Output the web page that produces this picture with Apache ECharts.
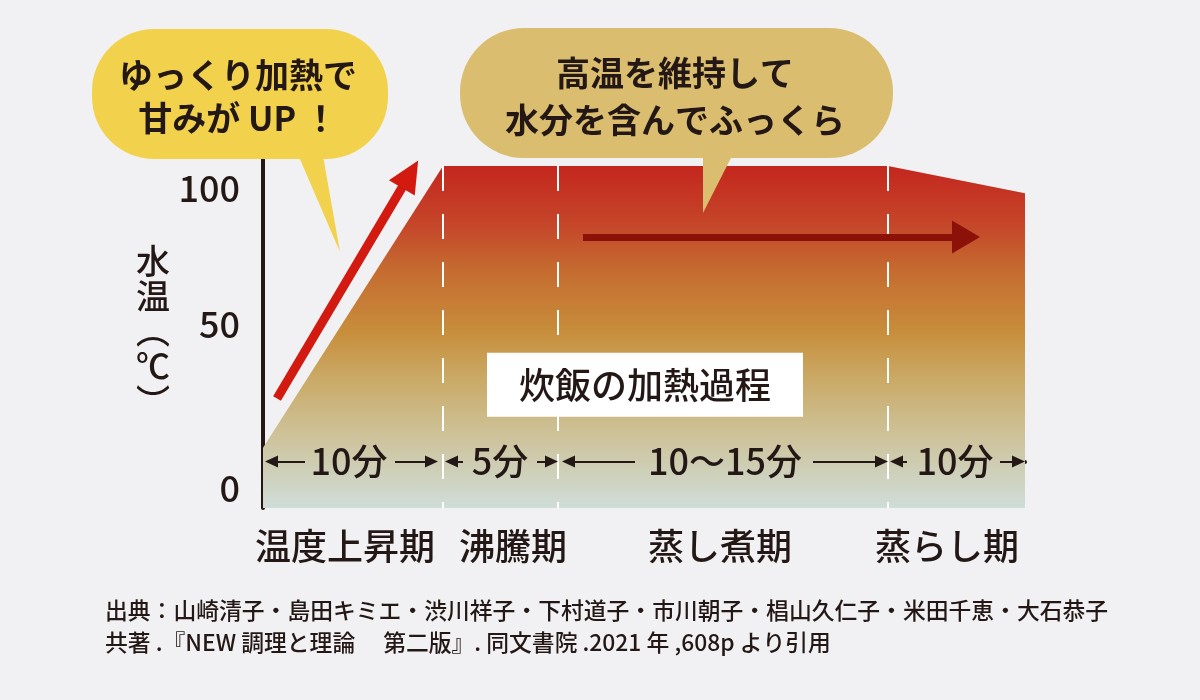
<!DOCTYPE html>
<html><head><meta charset="utf-8">
<script src="https://cdn.jsdelivr.net/npm/echarts@6/dist/echarts.min.js"></script>
<style>html,body{margin:0;padding:0;background:#f1f1f3;} #c{width:1200px;height:700px;}</style>
</head><body><div id="c"></div>
<script>
// ---------- data ----------
const stageNames = ['温度上昇期', '沸騰期', '蒸し煮期', '蒸らし期'];
const stageLabelPos = [82, 250, 457, 684];          // schematic x units
const stageBounds = [0, 180, 295, 625, 762];        // stage boundaries (schematic x units)
const curveX = [0, 180, 295, 625, 762];
const curveTemp = [5, 108, 108, 108, 98];           // water temperature (°C, schematic)
const yTickValues = [0, 50, 100];
const yTickLabels = ['0', '50', '100'];
const durationLabels = ['10分', '5分', '10〜15分', '10分'];
const durationLabelX = [86, 237, 462, 692];
const durationRowY = 0;
const durationLeftSegs = [[8.5, 42], [188.5, 200], [305.5, 372], [633.5, 644]];
const durationRightSegs = [[132, 168.5], [274, 288.5], [550, 618.5], [737, 755.5]];
const riseArrow = [[14, 23], [147, 105]];
const holdArrow = [[320, 82], [703, 82]];
const boxTitle = '炊飯の加熱過程';
const boxPos = [382, 28];
const bubble1Text = 'ゆっくり加熱で\n甘みが UP ！';
const bubble2Text = '高温を維持して\n水分を含んでふっくら';
const sourceLine1 = '出典：山崎清子・島田キミエ・渋川祥子・下村道子・市川朝子・椙山久仁子・米田千恵・大石恭子';
const sourceLine2 = '共著 .『NEW 調理と理論　 第二版』. 同文書院 .2021 年 ,608p より引用';
const yAxisTitle = '水\n温\n︵\n℃\n︶';

// ---------- chart ----------
const FONT = "'Noto Sans CJK JP', 'Noto Sans', sans-serif";
const INK = '#231815';
const W = 500;
const Y_MIN = -17, Y_MAX = 112;
const X_MIN = 0, X_MAX = 762;

const chart = echarts.init(document.getElementById('c'));

const areaGradient = new echarts.graphic.LinearGradient(0, 0, 0, 1, [
  { offset: 0, color: '#c4261e' },
  { offset: 0.18, color: '#c5482a' },
  { offset: 0.30, color: '#c56a30' },
  { offset: 0.48, color: '#c78d3a' },
  { offset: 0.62, color: '#caa966' },
  { offset: 0.77, color: '#cdc094' },
  { offset: 1, color: '#cfddd8' }
]);

const dashData = stageBounds.slice(1, -1).map(x => [
  { coord: [x, curveTemp[curveX.indexOf(x)]] },
  { coord: [x, Y_MIN] }
]);

const durationLines = [];
durationLeftSegs.forEach(s => durationLines.push([
  { coord: [s[0], durationRowY], symbol: 'triangle' },
  { coord: [s[1], durationRowY], symbol: 'none' }
]));
durationRightSegs.forEach(s => durationLines.push([
  { coord: [s[0], durationRowY], symbol: 'none' },
  { coord: [s[1], durationRowY], symbol: 'triangle' }
]));

const option = {
  animation: false,
  backgroundColor: '#f1f1f3',
  textStyle: { fontFamily: FONT },
  grid: { left: 263, right: 175, top: 155, bottom: 192, containLabel: false },
  xAxis: {
    type: 'value', min: X_MIN, max: X_MAX,
    axisLine: { show: true, lineStyle: { color: INK, width: 4 } },
    axisTick: { show: false },
    splitLine: { show: false },
    axisLabel: {
      customValues: stageLabelPos,
      formatter: v => stageNames[stageLabelPos.indexOf(v)] || '',
      fontSize: 36, fontWeight: W, color: INK, margin: 20, fontFamily: FONT
    }
  },
  yAxis: {
    type: 'value', min: Y_MIN, max: Y_MAX,
    name: yAxisTitle,
    nameLocation: 'middle', nameRotate: 0, nameGap: 93,
    nameTextStyle: { fontSize: 34, fontWeight: W, color: INK, lineHeight: 35, fontFamily: FONT, padding: [22, 0, 0, 0] },
    axisLine: { show: true, lineStyle: { color: INK, width: 4 } },
    axisTick: { show: false },
    splitLine: { show: false },
    axisLabel: {
      customValues: yTickValues,
      formatter: v => {
        const t = yTickLabels[yTickValues.indexOf(v)];
        return v === 0 ? '{z|' + t + '}' : t;
      },
      fontSize: 36, fontWeight: W, color: INK, margin: 23, fontFamily: FONT,
      rich: { z: { fontSize: 36, fontWeight: W, color: INK, fontFamily: FONT, padding: [53, 0, 0, 0] } }
    }
  },
  series: [
    {
      type: 'line', name: '水温',
      data: curveX.map((x, i) => [x, curveTemp[i]]),
      symbol: 'none', silent: true, z: 1,
      lineStyle: { width: 0 },
      areaStyle: { origin: 'start', opacity: 1, color: areaGradient },
      markLine: {
        silent: true, symbol: 'none', label: { show: false },
        lineStyle: { color: '#ffffff', width: 2, type: [25, 23], opacity: 1 },
        emphasis: { disabled: true },
        data: dashData
      }
    },
    {
      type: 'line', name: 'rise', data: [], z: 3,
      itemStyle: { color: '#d21a10' },
      markLine: {
        silent: true, symbol: ['none', 'triangle'], symbolSize: [30, 32],
        label: { show: false }, emphasis: { disabled: true },
        lineStyle: { color: '#d21a10', width: 9, type: 'solid', opacity: 1 },
        data: [[{ coord: riseArrow[0] }, { coord: riseArrow[1] }]]
      }
    },
    {
      type: 'line', name: 'hold', data: [], z: 3,
      itemStyle: { color: '#8c1209' },
      markLine: {
        silent: true, symbol: ['none', 'triangle'], symbolSize: [33, 28],
        label: { show: false }, emphasis: { disabled: true },
        lineStyle: { color: '#8c1209', width: 7, type: 'solid', opacity: 1 },
        data: [[{ coord: holdArrow[0] }, { coord: holdArrow[1] }]]
      }
    },
    {
      type: 'line', name: 'duration', data: [], z: 3,
      itemStyle: { color: INK },
      markLine: {
        silent: true, symbol: ['triangle', 'triangle'], symbolSize: [12, 13],
        label: { show: false }, emphasis: { disabled: true },
        lineStyle: { color: INK, width: 2, type: 'solid', opacity: 1 },
        data: durationLines
      }
    },
    {
      type: 'scatter', name: 'durationText', silent: true, z: 4,
      symbolSize: 1, itemStyle: { color: 'rgba(0,0,0,0)', opacity: 1 },
      data: durationLabelX.map((x, i) => ({ value: [x, durationRowY], name: durationLabels[i] })),
      label: { show: true, position: 'inside', formatter: '{b}', fontSize: 36, fontWeight: W, color: INK, opacity: 1, fontFamily: FONT }
    },
    {
      type: 'scatter', name: 'title', silent: true, z: 6,
      symbolSize: 1, itemStyle: { color: 'rgba(0,0,0,0)', opacity: 1 },
      data: [{ value: boxPos, name: boxTitle }],
      label: {
        show: true, position: 'inside', formatter: '{b}', fontSize: 36, fontWeight: W, lineHeight: 36, color: INK, opacity: 1,
        fontFamily: FONT, backgroundColor: '#ffffff', padding: [14, 32]
      }
    }
  ],
  graphic: [
    { type: 'rect', z: 100, shape: { x: 92, y: 29, width: 296, height: 130, r: 62 }, style: { fill: '#f2d24c' } },
    { type: 'polygon', z: 100, shape: { points: [[296, 150], [322, 150], [340, 252]] }, style: { fill: '#f2d24c' } },
    { type: 'text', z: 101, x: 238, y: 97, style: { text: bubble1Text, fontSize: 34, fontWeight: 'bold', lineHeight: 43, align: 'center', verticalAlign: 'middle', fill: INK, fontFamily: FONT } },
    { type: 'rect', z: 100, shape: { x: 460, y: 28, width: 433, height: 130, r: 64 }, style: { fill: '#dbbd6f' } },
    { type: 'polygon', z: 100, shape: { points: [[703, 150], [735, 150], [703, 213]] }, style: { fill: '#dbbd6f' } },
    { type: 'text', z: 101, x: 675, y: 97, style: { text: bubble2Text, fontSize: 34, fontWeight: 'bold', lineHeight: 47, align: 'center', verticalAlign: 'middle', fill: INK, fontFamily: FONT } },
    { type: 'text', z: 101, x: 105, y: 610, style: { text: sourceLine1, fontSize: 22.8, fontWeight: W, align: 'left', verticalAlign: 'middle', fill: INK, fontFamily: FONT } },
    { type: 'text', z: 101, x: 105, y: 642, style: { text: sourceLine2, fontSize: 22.8, fontWeight: W, align: 'left', verticalAlign: 'middle', fill: INK, fontFamily: FONT } }
  ]
};
chart.setOption(option);
</script>
</body></html>
